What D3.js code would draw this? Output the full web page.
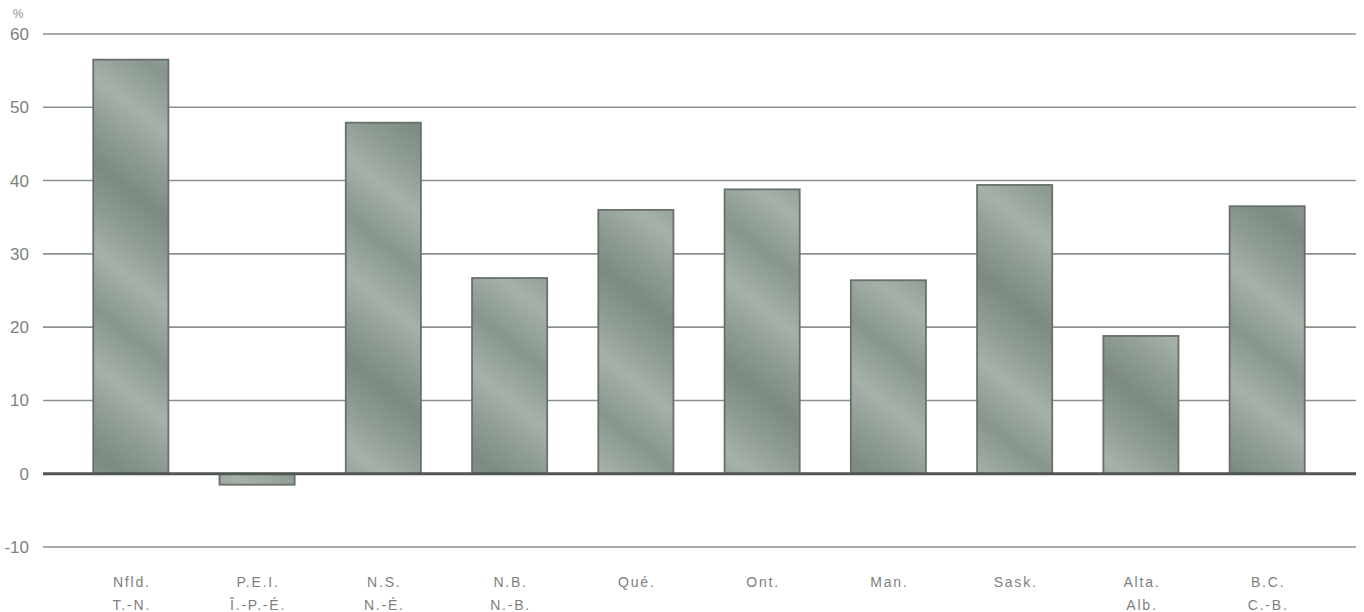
<!DOCTYPE html>
<html>
<head>
<meta charset="utf-8">
<script src="https://cdn.jsdelivr.net/npm/d3@7"></script>
<style>
  body { margin: 0; background: #fff; }
  svg { display: block; font-family: "Liberation Sans", Arial, sans-serif; }
</style>
</head>
<body>
<svg id="chart" width="1364" height="612"></svg>
<script>
// Provinces (English / French abbreviations)
const provincesEn = ["Nfld.", "P.E.I.", "N.S.", "N.B.", "Qué.", "Ont.", "Man.", "Sask.", "Alta.", "B.C."];
const provincesFr = ["T.-N.", "Î.-P.-É.", "N.-É.", "N.-B.", "", "", "", "", "Alb.", "C.-B."];
// Percentage change by province
const values = [56.5, -1.5, 47.9, 26.7, 36.0, 38.8, 26.4, 39.4, 18.8, 36.5];
const yTicks = [-10, 0, 10, 20, 30, 40, 50, 60];

const svg = d3.select("#chart");
const gridLeft = 43, gridRight = 1356;

const x = d3.scaleBand()
  .domain(provincesEn)
  .range([68, 1330])
  .paddingInner(0.405)
  .paddingOuter(0.2);

const y = d3.scaleLinear().domain([-10, 60]).range([547, 34]);

// Bar texture: diagonal grey-green streaks
const defs = svg.append("defs");
const grad = defs.append("linearGradient")
  .attr("id", "barFill")
  .attr("gradientUnits", "userSpaceOnUse")
  .attr("x1", 0).attr("y1", 90).attr("x2", 70).attr("y2", 0)
  .attr("spreadMethod", "reflect");
[[0, "#7d8a82"], [0.3, "#8f9c94"], [0.6, "#a5b1a9"], [1, "#88968d"]]
  .forEach(([o, c]) => grad.append("stop").attr("offset", o).attr("stop-color", c));

// Horizontal grid
svg.append("g")
  .selectAll("line")
  .data(yTicks.filter(d => d !== 0))
  .join("line")
  .attr("x1", gridLeft).attr("x2", gridRight)
  .attr("y1", d => y(d)).attr("y2", d => y(d))
  .attr("stroke", "#8a908c")
  .attr("stroke-width", 1.6);

// Bars
svg.append("g")
  .selectAll("rect")
  .data(values)
  .join("rect")
  .attr("x", (d, i) => x(provincesEn[i]))
  .attr("width", x.bandwidth())
  .attr("y", d => y(Math.max(0, d)))
  .attr("height", d => Math.abs(y(d) - y(0)))
  .attr("fill", "url(#barFill)")
  .attr("stroke", "#69706b")
  .attr("stroke-width", 1.8);

// Zero baseline
svg.append("line")
  .attr("x1", gridLeft).attr("x2", gridRight)
  .attr("y1", y(0)).attr("y2", y(0))
  .attr("stroke", "#505652")
  .attr("stroke-width", 3);

// Y axis labels
const yAxis = svg.append("g")
  .attr("transform", `translate(29,0)`)
  .call(d3.axisLeft(y).tickValues(yTicks).tickSize(0).tickPadding(0)
    .tickFormat(d => String(d)));
yAxis.select(".domain").remove();
yAxis.selectAll("text")
  .attr("fill", "#7c817e")
  .attr("font-size", 17)
  .attr("font-family", "'Liberation Sans', Arial, sans-serif");

svg.append("text")
  .attr("x", 18).attr("y", 18)
  .attr("text-anchor", "middle")
  .attr("fill", "#8a8f8c")
  .attr("font-size", 12)
  .text("%");

// Category labels (two lines)
const labels = svg.append("g")
  .attr("fill", "#7c817e")
  .attr("font-size", 14)
  .attr("letter-spacing", 1.8)
  .attr("text-anchor", "middle");
labels.selectAll("text.en")
  .data(provincesEn)
  .join("text")
  .attr("class", "en")
  .attr("x", d => x(d) + x.bandwidth() / 2 + 1)
  .attr("y", 587)
  .text(d => d);
labels.selectAll("text.fr")
  .data(provincesFr)
  .join("text")
  .attr("class", "fr")
  .attr("x", (d, i) => x(provincesEn[i]) + x.bandwidth() / 2 + 1)
  .attr("y", 610)
  .text(d => d);
</script>
</body>
</html>
